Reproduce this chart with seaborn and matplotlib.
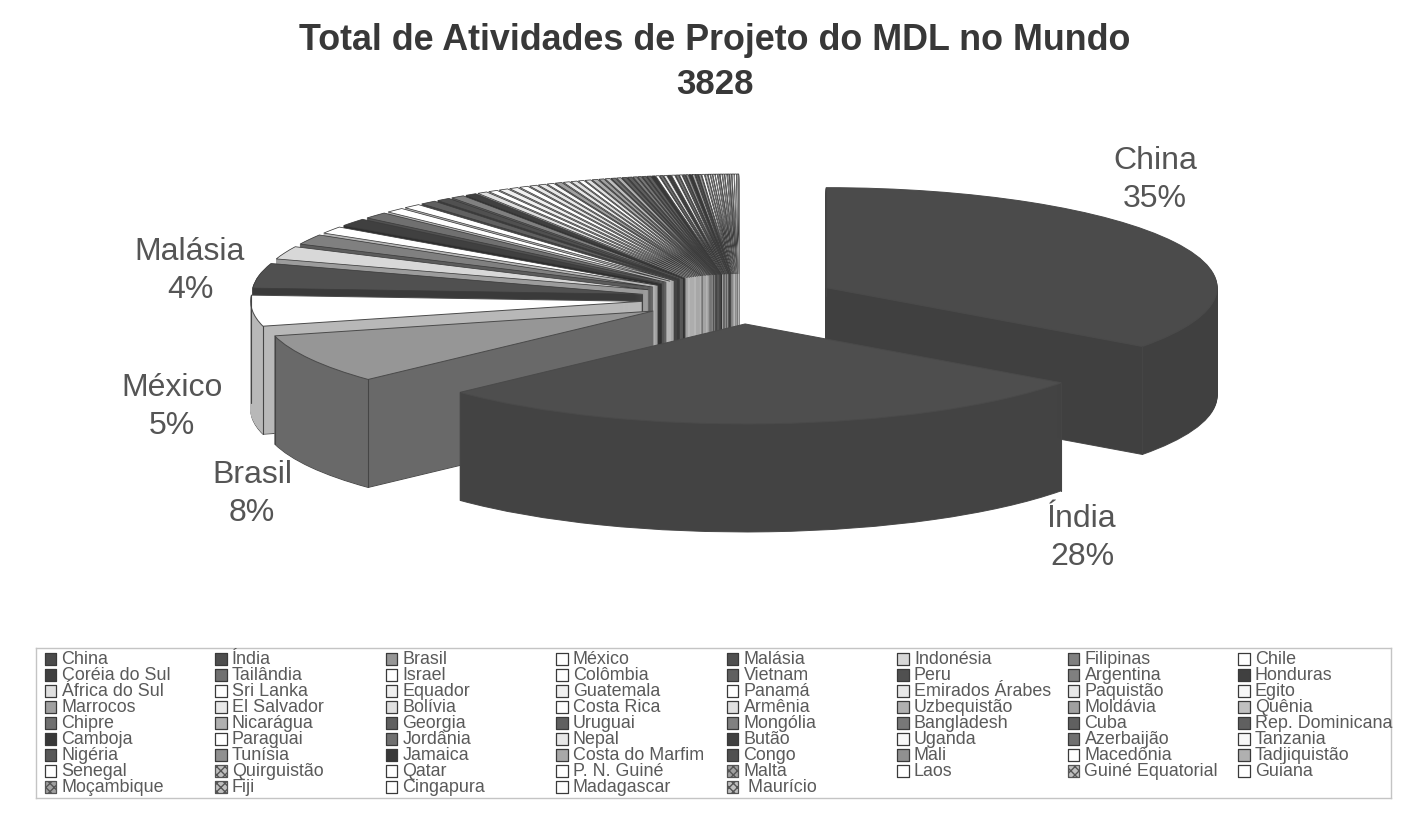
import matplotlib
matplotlib.use("Agg")
import matplotlib.pyplot as plt
import numpy as np
import pandas as pd
import seaborn as sns

sns.set_theme(style="white")
plt.rcParams["font.family"] = ["Liberation Sans", "DejaVu Sans"]

title_lines = ["Total de Atividades de Projeto do MDL no Mundo", "3828"]

countries = [
    "China", "Índia", "Brasil", "México", "Malásia", "Indonésia", "Filipinas", "Chile",
    "Coréia do Sul", "Tailândia", "Israel", "Colômbia", "Vietnam", "Peru", "Argentina", "Honduras",
    "África do Sul", "Sri Lanka", "Equador", "Guatemala", "Panamá", "Emirados Árabes", "Paquistão", "Egito",
    "Marrocos", "El Salvador", "Bolívia", "Costa Rica", "Armênia", "Uzbequistão", "Moldávia", "Quênia",
    "Chipre", "Nicarágua", "Georgia", "Uruguai", "Mongólia", "Bangladesh", "Cuba", "Rep. Dominicana",
    "Camboja", "Paraguai", "Jordânia", "Nepal", "Butão", "Uganda", "Azerbaijão", "Tanzania",
    "Nigéria", "Tunísia", "Jamaica", "Costa do Marfim", "Congo", "Mali", "Macedônia", "Tadjiquistão",
    "Senegal", "Quirguistão", "Qatar", "P. N. Guiné", "Malta", "Laos", "Guiné Equatorial", "Guiana",
    "Moçambique", "Fiji", "Cingapura", "Madagascar", " Maurício",
]
projects = [
    1340, 1072, 306, 191, 153, 80, 63, 44,
    48, 40, 30, 28, 26, 22, 22, 18,
    16, 15, 15, 14, 14, 12, 12, 11,
    11, 10, 10, 9, 9, 9, 8, 8,
    7, 7, 7, 7, 6, 6, 6, 6,
    5, 5, 5, 5, 5, 5, 5, 4,
    4, 4, 4, 4, 4, 4, 4, 4,
    3, 3, 3, 3, 3, 3, 3, 3,
    3, 3, 3, 3, 3,
]
greys = [
    "#4b4b4b", "#4e4e4e", "#969696", "#ffffff", "#505050", "#d8d8d8", "#808080", "#ffffff",
    "#404040", "#707070", "#ffffff", "#ffffff", "#606060", "#505050", "#808080", "#404040",
    "#e0e0e0", "#ffffff", "#f0f0f0", "#f0f0f0", "#ffffff", "#e8e8e8", "#e8e8e8", "#f8f8f8",
    "#a0a0a0", "#e8e8e8", "#e0e0e0", "#ffffff", "#e0e0e0", "#b0b0b0", "#a0a0a0", "#c0c0c0",
    "#707070", "#b0b0b0", "#606060", "#606060", "#808080", "#787878", "#606060", "#606060",
    "#383838", "#ffffff", "#707070", "#e8e8e8", "#404040", "#f8f8f8", "#707070", "#f8f8f8",
    "#585858", "#909090", "#383838", "#a8a8a8", "#505050", "#909090", "#ffffff", "#b0b0b0",
    "#ffffff", "#c0c0c0", "#ffffff", "#ffffff", "#a0a0a0", "#ffffff", "#c0c0c0", "#ffffff",
    "#a0a0a0", "#c0c0c0", "#ffffff", "#ffffff", "#c0c0c0",
]
hatched = ["Quirguistão", "Malta", "Guiné Equatorial", "Moçambique", "Fiji", " Maurício"]
labelled = {"China": (1155, 180), "Índia": (1082, 538), "Brasil": (252, 494),
            "México": (172, 407), "Malásia": (190, 271)}

W, H = 1418, 813
fig = plt.figure(figsize=(W / 100, H / 100), dpi=100, facecolor="white")


def px(x, y):
    return x / W, 1 - y / H


# pie geometry in pixels
cx, cy = 739, 299
rx, ry = 391, 100
depth = 108
step = 1
explode_by = 0.25

ax = fig.add_axes([0, 0, 1, 1])
n = len(projects)
# back to front: small slices first, then the big ones
front = ["China", "México", "Brasil", "Índia"]
order = [i for i in range(n - 1, -1, -1) if countries[i] not in front] + [countries.index(c) for c in front]
rank = {idx: r for r, idx in enumerate(order)}


def shade(hex_col, idx):
    f = 0.86 if idx < 2 else (0.7 if idx == 2 else 0.72)
    rgb = np.array(matplotlib.colors.to_rgb(hex_col)) * f
    return matplotlib.colors.to_hex(rgb)


side_colors = [shade(g, i) for i, g in enumerate(greys)]
layers = list(range(depth, -1, -step))

for lay_no, d in enumerate(layers):
    is_top = d == 0
    is_bottom = lay_no == 0
    cols = greys if is_top else side_colors
    wedges, _ = ax.pie(
        projects, colors=cols, explode=[explode_by] * n, startangle=90, counterclock=False,
        center=(0, -d / ry), radius=1, labeldistance=None, normalize=True,
        wedgeprops=dict(linewidth=0.7, edgecolor="#4a4a4a") if is_top or is_bottom else dict(linewidth=0.8),
    )
    for i, w in enumerate(wedges):
        if not (is_top or is_bottom):
            w.set_edgecolor(side_colors[i])
        elif i > 3:
            w.set_linewidth(0.55)
            w.set_edgecolor("#3c3c3c")
        w.set_zorder(rank[i] * 1000 + lay_no)

# vertical edges where the big slices turn a corner
shares = np.array(projects) / sum(projects)
ends = np.cumsum(shares)
starts = ends - shares
for i in range(4):
    mid = (starts[i] + ends[i]) / 2 * 2 * np.pi
    off = np.array([np.sin(mid), np.cos(mid)]) * explode_by
    for t in (starts[i], ends[i]):
        a = t * 2 * np.pi
        x = off[0] + np.sin(a)
        y = off[1] + np.cos(a)
        if y < 0.05 or i == 3 or x > 0:
            ax.plot([x, x], [y, y - depth / ry], color="#454545", lw=0.8, zorder=rank[i] * 1000 + 900)

ax.set_aspect("auto")
ax.set_xlim((0 - cx) / rx, (W - cx) / rx)
ax.set_ylim((cy - H) / ry, cy / ry)
ax.axis("off")

# title
for line, y, size in zip(title_lines, (41, 84), (25.8, 25)):
    fig.text(*px(715, y), line, ha="center", va="center", fontsize=size, fontweight="bold", color="#383838")

# slice labels
total = sum(projects)
for name, (lx, ly) in labelled.items():
    pct = round(100 * projects[countries.index(name)] / total)
    fig.text(*px(lx, ly), f"{name}\n{pct}%", ha="center", va="center", fontsize=23,
             color="#555555", linespacing=1.36)

# legend block, grid of columns and rows
leg = fig.add_axes([36 / W, 1 - 798 / H, (1391 - 36) / W, (798 - 648) / H])
col_w, row_h = 170.5, 16
table = pd.DataFrame({"name": countries, "grey": greys})
table["col"] = [i % 8 for i in range(n)]
table["row"] = [i // 8 for i in range(n)]
plain = table[~table["name"].isin(hatched)]
marked = table[table["name"].isin(hatched)]
sns.scatterplot(data=plain, x="col", y="row", hue="name", palette=dict(zip(plain["name"], plain["grey"])),
                marker="s", s=66, edgecolor="#3a3a3a", linewidth=0.9, legend=False, ax=leg)
sns.scatterplot(data=marked, x="col", y="row", hue="name", palette=dict(zip(marked["name"], marked["grey"])),
                marker="s", s=66, edgecolor="#555555", linewidth=0.9, hatch="xxxx", legend=False, ax=leg)
for _, r in table.iterrows():
    leg.text(r["col"] + 11 / col_w, r["row"] + 0.05, r["name"], ha="left", va="center", fontsize=12.9, color="#5a5a5a")
leg.set_xlim((36 - 50.5) / col_w, (1391 - 50.5) / col_w)
leg.set_ylim((798 - 659) / row_h, (648 - 659) / row_h)
leg.set_xticks([])
leg.set_yticks([])
leg.set_xlabel("")
leg.set_ylabel("")
leg.patch.set_alpha(0)
for s in leg.spines.values():
    s.set_color("#c4c4c4")
    s.set_linewidth(1)

fig.savefig("out.png", dpi=100, facecolor="white")
